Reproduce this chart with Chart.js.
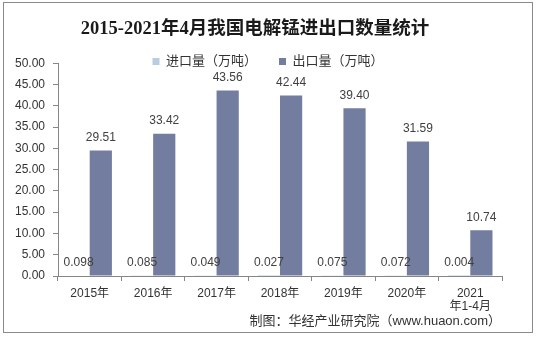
<!DOCTYPE html>
<html>
<head>
<meta charset="utf-8">
<script src="https://cdn.jsdelivr.net/npm/chart.js@4/dist/chart.umd.min.js"></script>
<style>
    html, body { margin: 0; padding: 0; background: #fff; }
    #wrap { width: 536px; height: 337px; position: relative; }
</style>
</head>
<body>
<div id="wrap"><canvas id="mnChart"></canvas></div>
<script>
const years = ['2015年', '2016年', '2017年', '2018年', '2019年', '2020年', ['2021', '年1-4月']];
const importTons = [0.098, 0.085, 0.049, 0.027, 0.075, 0.072, 0.004];
const exportTons = [29.51, 33.42, 43.56, 42.44, 39.40, 31.59, 10.74];
const yTicks = [0, 5, 10, 15, 20, 25, 30, 35, 40, 45, 50];

const sansFont = '"Liberation Sans", Arial, "Noto Sans CJK SC", sans-serif';
const LEGEND_TOP = 33;
const LEGEND_SHIFT = 13;

// value labels above each bar, plus frame and source line
const decorPlugin = {
    id: 'decor',
    beforeLayout(chart) {
        // legend takes no room: it floats level with the top tick
        const lg = chart.legend;
        if (lg && !lg._flat) {
            const fit = lg.fit;
            lg.fit = function () {
                fit.call(this);
                this._realHeight = this.height;
                this.height = 0;
            };
            lg._flat = true;
        }
    },
    beforeDraw(chart) {
        const lg = chart.legend;
        lg.top = LEGEND_TOP;
        lg.bottom = LEGEND_TOP + lg._realHeight;
        lg.height = lg._realHeight;
        if (!lg._shifted) {
            lg.left += LEGEND_SHIFT;
            lg.right += LEGEND_SHIFT;
            lg._shifted = true;
        }
    },
    afterDatasetsDraw(chart) {
        const { ctx } = chart;
        ctx.save();
        ctx.font = '12px ' + sansFont;
        ctx.fillStyle = '#404040';
        ctx.textAlign = 'center';
        ctx.textBaseline = 'middle';
        chart.data.datasets.forEach((ds, i) => {
            const meta = chart.getDatasetMeta(i);
            meta.data.forEach((bar, j) => {
                const text = ds.data[j].toFixed(ds.digits);
                ctx.fillText(text, bar.x, bar.y - 13);
            });
        });
        ctx.restore();
    },
    afterDraw(chart) {
        const { ctx } = chart;
        ctx.save();
        ctx.strokeStyle = '#8a8a8a';
        ctx.lineWidth = 1;
        ctx.strokeRect(3.5, 2.5, 529, 330);
        ctx.font = '13px ' + sansFont;
        ctx.fillStyle = '#333';
        ctx.textAlign = 'right';
        ctx.textBaseline = 'middle';
        ctx.fillText('制图：华经产业研究院（www.huaon.com）', 501, 321);
        ctx.restore();
    },
};

new Chart(document.getElementById('mnChart'), {
    type: 'bar',
    data: {
        labels: years,
        datasets: [
            {
                label: '进口量（万吨）',
                data: importTons,
                digits: 3,
                backgroundColor: '#b9cde0',
            },
            {
                label: '出口量（万吨）',
                data: exportTons,
                digits: 2,
                backgroundColor: '#737d9f',
            },
        ],
    },
    options: {
        responsive: true,
        maintainAspectRatio: false,
        animation: false,
        categoryPercentage: 0.7,
        barPercentage: 1,
        layout: { padding: { left: 8, right: 34, top: 6, bottom: 25 } },
        plugins: {
            title: {
                display: true,
                text: '2015-2021年4月我国电解锰进出口数量统计',
                color: '#1a1a1a',
                font: { family: '"Liberation Serif", "Noto Sans CJK SC", serif', size: 18.5, weight: 'bold' },
                padding: { top: 12, bottom: 23 },
            },
            legend: {
                labels: {
                    boxWidth: 7,
                    boxHeight: 7,
                    color: '#333',
                    font: { family: sansFont, size: 13 },
                    padding: 22,
                },
            },
            tooltip: { enabled: false },
        },
        scales: {
            x: {
                grid: { drawOnChartArea: false, tickLength: 5, color: '#868686' },
                border: { color: '#868686' },
                ticks: {
                    color: '#333',
                    font: { family: sansFont, size: 12, lineHeight: 1.1 },
                    maxRotation: 0,
                    padding: 6,
                },
                afterFit: (s) => { s.height = 36; },
            },
            y: {
                min: 0,
                max: 50,
                afterBuildTicks: (s) => { s.ticks = yTicks.map((v) => ({ value: v })); },
                grid: { drawOnChartArea: false, tickLength: 5, color: '#868686' },
                border: { color: '#868686' },
                ticks: {
                    color: '#333',
                    font: { family: sansFont, size: 12 },
                    padding: 8,
                    callback: (v) => v.toFixed(2),
                },
                afterFit: (s) => { s.width = 50; },
            },
        },
    },
    plugins: [decorPlugin],
});
</script>
</body>
</html>
